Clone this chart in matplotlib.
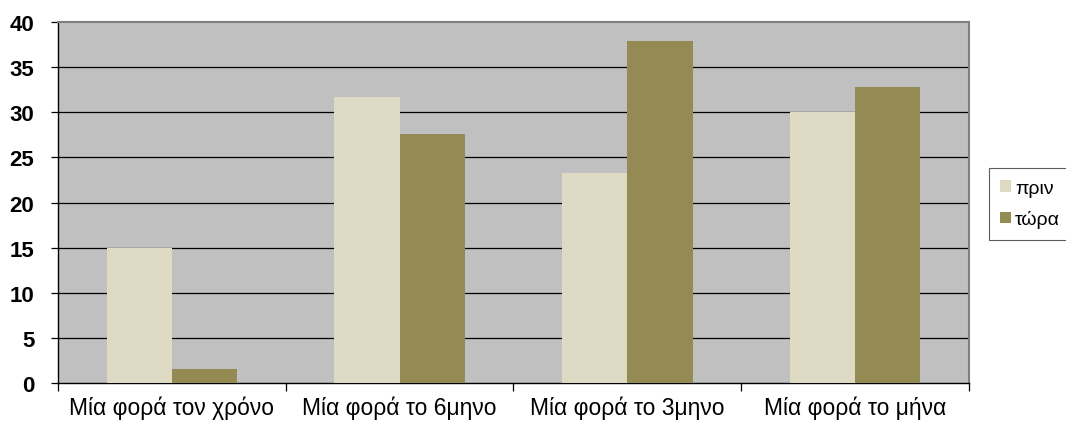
import matplotlib
matplotlib.use("Agg")
import matplotlib.pyplot as plt
import numpy as np

categories = ["Μία φορά τον χρόνο", "Μία φορά το 6μηνο", "Μία φορά το 3μηνο", "Μία φορά το μήνα"]
before = [15.0, 31.7, 23.3, 30.0]
now = [1.6, 27.6, 37.9, 32.8]
series_labels = ["πριν", "τώρα"]
yticks = [0, 5, 10, 15, 20, 25, 30, 35, 40]

plt.rcParams["font.family"] = ["Liberation Sans", "DejaVu Sans"]

fig = plt.figure(figsize=(10.66, 4.27), dpi=100)
ax = fig.add_axes([0.0544, 0.1007, 0.8546, 0.8453])
ax.set_facecolor("#C0C0C0")

x = np.arange(len(categories))
w = 0.286
ax.bar(x - w / 2, before, width=w, color="#DDD9C3", label=series_labels[0], zorder=3)
ax.bar(x + w / 2, now, width=w, color="#948A54", label=series_labels[1], zorder=3)

ax.set_xlim(-0.5, len(categories) - 0.5)
ax.set_ylim(0, 40)
ax.set_yticks(yticks)
ax.set_yticklabels([str(v) for v in yticks], fontsize=16, fontweight="bold")
for v in yticks[1:-1]:
    ax.axhline(v, color="black", lw=0.9, zorder=2)

ax.set_xticks(x)
ax.set_xticklabels(categories, fontsize=16.5)
ax.tick_params(axis="x", length=0, pad=9)
ax.set_xticks(np.arange(len(categories) + 1) - 0.5, minor=True)
ax.tick_params(axis="x", which="minor", length=6, width=0.9, color="black", direction="out")
ax.tick_params(axis="y", length=5, width=0.9, direction="out", pad=12)

ax.spines["left"].set_color("black")
ax.spines["bottom"].set_color("black")
ax.spines["top"].set_color("#808080")
ax.spines["right"].set_color("#808080")
for s in ax.spines.values():
    s.set_linewidth(1.0)
ax.spines["top"].set_linewidth(1.5)
ax.spines["right"].set_linewidth(1.5)

leg = fig.legend(loc="upper left", bbox_to_anchor=(0.9275, 0.604), frameon=True,
                 fancybox=False, edgecolor="#333333", fontsize=14,
                 handlelength=0.55, handleheight=0.55, handletextpad=0.2,
                 labelspacing=0.7, borderpad=0.6, borderaxespad=0)
leg.get_frame().set_linewidth(0.8)

fig.savefig("out.png", dpi=100, facecolor="white")
